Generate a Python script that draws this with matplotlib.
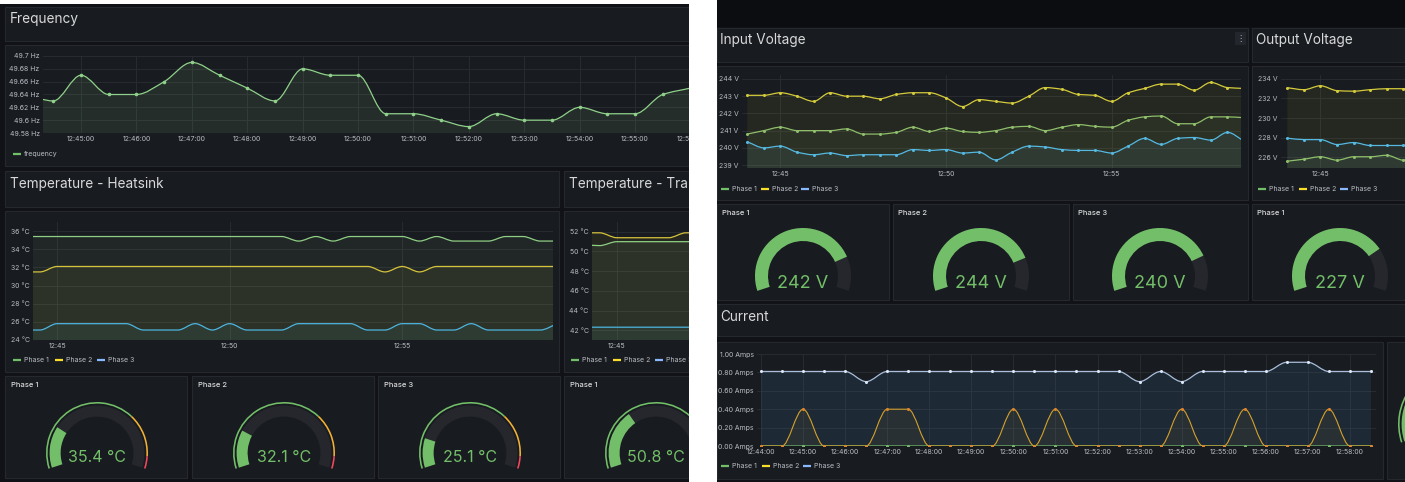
import numpy as np
import matplotlib
matplotlib.use("Agg")
import matplotlib.pyplot as plt
from matplotlib.path import Path
from matplotlib.patches import PathPatch, Rectangle, Wedge

plt.rcParams['font.family'] = ['Inter', 'DejaVu Sans']

W, H = 1405, 482

# ---- data ----
times = ["12:44:00", "12:44:30", "12:45:00", "12:45:30", "12:46:00", "12:46:30",
         "12:47:00", "12:47:30", "12:48:00", "12:48:30", "12:49:00", "12:49:30",
         "12:50:00", "12:50:30", "12:51:00", "12:51:30", "12:52:00", "12:52:30",
         "12:53:00", "12:53:30", "12:54:00", "12:54:30", "12:55:00", "12:55:30",
         "12:56:00", "12:56:30", "12:57:00", "12:57:30", "12:58:00", "12:58:30",
         "12:59:00", "12:59:30"]

frequency = [49.64, 49.63, 49.67, 49.64, 49.64, 49.66, 49.69, 49.67, 49.65, 49.63,
             49.68, 49.67, 49.67, 49.61, 49.61, 49.60, 49.59, 49.61, 49.60, 49.60,
             49.62, 49.61, 49.61, 49.64, 49.65]

heatsink_p1 = [35.4] * 16 + [34.9, 35.4, 34.9, 35.4, 35.4, 35.4, 35.4, 34.9,
                             35.4, 34.9, 34.9, 34.9, 35.4, 35.4, 34.9, 34.9]
heatsink_p2 = [31.5, 31.5] + [32.1] * 19 + [31.5, 32.1, 31.5] + [32.1] * 8
heatsink_p3 = [25.1, 25.1, 25.8, 25.8, 25.8, 25.8, 25.8, 25.1, 25.1, 25.1, 25.8,
               25.1, 25.8, 25.1, 25.1, 25.1, 25.8, 25.8, 25.8, 25.8, 25.1, 25.1,
               25.8, 25.8, 25.1, 25.1, 25.8, 25.1, 25.1, 25.1, 25.1, 25.8]

transformer_p1 = [50.7, 50.6, 51.0, 51.0, 51.0, 51.0, 51.0, 51.0, 51.0]
transformer_p2 = [51.9, 51.9, 51.4, 51.4, 51.4, 51.4, 51.9, 51.9, 51.9]
transformer_p3 = [42.3] * 9

in_volt_p1 = [240.8, 241.0, 241.2, 241.0, 241.0, 241.0, 241.1, 240.8, 240.8, 240.9,
              241.2, 240.95, 241.15, 240.95, 240.9, 241.0, 241.2, 241.25, 241.0, 241.2,
              241.35, 241.25, 241.2, 241.6, 241.8, 241.85, 241.4, 241.4, 241.8, 241.8,
              241.75]
in_volt_p2 = [243.05, 243.05, 243.2, 243.0, 242.7, 243.2, 243.0, 243.0, 242.85, 243.1,
              243.2, 243.2, 242.9, 242.4, 242.8, 242.7, 242.6, 243.0, 243.5, 243.4,
              243.1, 243.05, 242.7, 243.2, 243.45, 243.7, 243.7, 243.35, 243.8, 243.5,
              243.45]
in_volt_p3 = [240.35, 240.0, 240.1, 239.75, 239.6, 239.7, 239.55, 239.6, 239.6, 239.6,
              239.9, 239.85, 239.9, 239.7, 239.75, 239.3, 239.75, 240.1, 240.05, 239.9,
              239.85, 239.85, 239.7, 240.1, 240.55, 240.2, 240.55, 240.6, 240.45, 240.9,
              240.4]

out_volt_p1 = [225.6, 225.8, 226.05, 225.7, 226.05, 226.05, 226.2, 225.7, 225.9]
out_volt_p2 = [233.1, 232.9, 233.3, 232.8, 232.75, 232.9, 233.0, 233.0, 233.0]
out_volt_p3 = [227.95, 227.8, 227.8, 227.3, 227.5, 227.2, 227.2, 227.2, 227.2]

current_p1 = [0.0] * 30
current_p2 = [0.0, 0.0, 0.4, 0.0, 0.0, 0.0, 0.4, 0.4, 0.0, 0.0, 0.0, 0.0, 0.4, 0.0, 0.4,
              0.0, 0.0, 0.0, 0.0, 0.0, 0.4, 0.0, 0.0, 0.4, 0.0, 0.0, 0.0, 0.4, 0.0, 0.0]
current_p3 = [0.81, 0.81, 0.81, 0.81, 0.81, 0.70, 0.81, 0.81, 0.81, 0.81, 0.81, 0.81,
              0.81, 0.81, 0.81, 0.81, 0.81, 0.81, 0.70, 0.81, 0.70, 0.81, 0.81, 0.81,
              0.81, 0.91, 0.91, 0.81, 0.81, 0.81]

heatsink_now = [35.4, 32.1, 25.1]
transformer_now = [50.8]
in_volt_now = [242, 244, 240]
out_volt_now = [227]
current_now = [0.81]

phases = ["Phase 1", "Phase 2", "Phase 3"]
freq_ticks = ["12:45:00", "12:46:00", "12:47:00", "12:48:00", "12:49:00", "12:50:00",
              "12:51:00", "12:52:00", "12:53:00", "12:54:00", "12:55:00", "12:56:00"]
short_ticks = ["12:45", "12:50", "12:55"]
current_ticks = ["12:44:00", "12:45:00", "12:46:00", "12:47:00", "12:48:00", "12:49:00",
                 "12:50:00", "12:51:00", "12:52:00", "12:53:00", "12:54:00", "12:55:00",
                 "12:56:00", "12:57:00", "12:58:00"]

# ---- colours ----
BG = '#111217'
PANEL = '#181b1f'
BORDER = '#25282d'
TXT = '#d8d9da'
TICK = '#b9bcc3'
GRID = '#2a2d33'
GREEN = '#73bf69'
LEG = ['#73bf69', '#fade2a', '#8ab8ff']
TEMP_COLS = ['#8fcf85', '#d6c33b', '#4db4df']
VOLT_COLS = ['#8fbf6a', '#d4cb3c', '#55b9e2']


def tmin(s):
    h, m, sec = (int(v) for v in s.split(':'))
    return (h - 12) * 60 + m + sec / 60


def mono_path(x, y, base=None):
    # monotone cubic (like Grafana "smooth") as bezier segments
    x = np.asarray(x, float)
    y = np.asarray(y, float)
    h = np.diff(x)
    d = np.diff(y) / h
    m = np.zeros_like(y)
    m[0], m[-1] = d[0], d[-1]
    for i in range(1, len(y) - 1):
        if d[i - 1] * d[i] > 0:
            w1 = 2 * h[i] + h[i - 1]
            w2 = h[i] + 2 * h[i - 1]
            m[i] = (w1 + w2) / (w1 / d[i - 1] + w2 / d[i])
    verts = [(x[0], y[0])]
    codes = [Path.MOVETO]
    for i in range(len(h)):
        verts += [(x[i] + h[i] / 3, y[i] + m[i] * h[i] / 3),
                  (x[i + 1] - h[i] / 3, y[i + 1] - m[i + 1] * h[i] / 3),
                  (x[i + 1], y[i + 1])]
        codes += [Path.CURVE4] * 3
    if base is not None:
        verts += [(x[-1], base), (x[0], base), (x[0], y[0])]
        codes += [Path.LINETO, Path.LINETO, Path.CLOSEPOLY]
    return Path(verts, codes)


fig = plt.figure(figsize=(W / 100, H / 100), dpi=100, facecolor='white')
ax0 = fig.add_axes([0, 0, 1, 1], zorder=0)
ax0.set_xlim(0, W)
ax0.set_ylim(H, 0)
ax0.axis('off')
left_clip = Rectangle((0, 0), 689, H, transform=ax0.transData)


def rect(x0, y0, x1, y1, fc, ec='none', lw=0.0):
    ax0.add_patch(Rectangle((x0, y0), x1 - x0, y1 - y0, fc=fc, ec=ec, lw=lw))


def panel(x0, y0, x1, y1):
    rect(x0, y0, x1, y1, PANEL, BORDER, 0.8)


def title(x, y, s, size=9.8):
    t = ax0.text(x, y, s, fontsize=size, color=TXT, va='center', ha='left')
    if x < 689:
        t.set_clip_path(left_clip)
        t.set_clip_on(True)


def legend(x, y, labels, colors, step=42):
    for i, (lab, c) in enumerate(zip(labels, colors)):
        x0 = x + i * step
        ax0.plot([x0, x0 + 8], [y, y], color=c, lw=1.6, solid_capstyle='butt')
        ax0.text(x0 + 11, y, lab, fontsize=5, color=TICK, va='center')


def chart(box, xlim, ylim, yticks, ylabels, xlabels):
    l, t, r, b = box
    ax = fig.add_axes([l / W, 1 - b / H, (r - l) / W, (b - t) / H], zorder=2)
    ax.set_facecolor('none')
    for s in ax.spines.values():
        s.set_visible(False)
    xt = [tmin(s if s.count(':') == 2 else s + ':00') for s in xlabels]
    ax.set_xticks(xt, xlabels)
    ax.set_yticks(yticks, ylabels)
    ax.set_xlim(xlim)
    ax.set_ylim(ylim)
    ax.tick_params(length=0, labelsize=5, colors=TICK, pad=2.5)
    ax.grid(True, color=GRID, lw=0.6)
    ax.set_axisbelow(True)
    return ax


def series(ax, y, color, lw=0.9, alpha=0.07, marker=None, ms=2.2, fill=None):
    x = [tmin(s) for s in times[:len(y)]]
    base = ax.get_ylim()[0]
    ax.add_patch(PathPatch(mono_path(x, y, base), fc=fill or color, ec='none',
                           alpha=alpha, zorder=2))
    ax.add_patch(PathPatch(mono_path(x, y), fill=False, ec=color, lw=lw, zorder=3))
    if marker:
        ax.plot(x, y, 'o', ms=ms, color=marker, mew=0, zorder=4)


START, END = 198.0, -18.0


def arc(cx, cy, r, w, a1, a2, color):
    # overlay y axis is inverted, so visual angles are negated
    ax0.add_patch(Wedge((cx, cy), r, -a2, -a1, width=w, fc=color, ec='none'))


def gauge(cx, cy, value, vmin, vmax, r, w, text=None, ty=0, size=11, bands=None):
    ang = lambda v: START - (v - vmin) / (vmax - vmin) * (START - END)
    rr = r
    if bands:
        for lo, hi, c in bands:
            arc(cx, cy, r, 1.6, ang(hi), ang(lo), c)
        rr = r - 3.6
    arc(cx, cy, rr, w, END, START, '#25272c')
    arc(cx, cy, rr, w, ang(value), START, GREEN)
    if text:
        ax0.text(cx, cy + ty, text, fontsize=size, color=GREEN, ha='center', va='center')


temp_bands = [(0, 105, GREEN), (105, 140, '#f2b134'), (140, 150, '#f2495c')]

# ================= left screenshot =================
rect(0, 4, 716, H, BG)
panel(5, 7, 716, 41)
title(10, 19, 'Frequency')
panel(5, 45, 716, 166)
panel(5, 171, 559, 207)
title(10, 184, 'Temperature - Heatsink')
panel(564, 171, 716, 207)
title(569, 184, 'Temperature - Tra')
panel(5, 211, 559, 372)
panel(564, 211, 716, 372)

ax = chart((43, 56, 716, 133), (44.314, 56.46), (49.58, 49.70),
           [49.58, 49.6, 49.62, 49.64, 49.66, 49.68, 49.7],
           ['49.58 Hz', '49.6 Hz', '49.62 Hz', '49.64 Hz', '49.66 Hz', '49.68 Hz', '49.7 Hz'],
           freq_ticks)
series(ax, frequency, '#8fd18a', alpha=0.1, marker='#8fd18a', ms=2.6)
legend(13, 154, ['frequency'], [GREEN])

ax = chart((33, 222, 553, 340), (44.30, 59.37), (24, 37),
           list(range(24, 37, 2)), ['%d °C' % v for v in range(24, 37, 2)], short_ticks)
for vals, c in zip([heatsink_p1, heatsink_p2, heatsink_p3], TEMP_COLS):
    series(ax, vals, c)
legend(13, 360, phases, LEG)

ax = chart((592, 222, 716, 340), (44.28, 47.87), (41, 53),
           list(range(42, 53, 2)), ['%d °C' % v for v in range(42, 53, 2)], short_ticks)
for vals, c in zip([transformer_p1, transformer_p2, transformer_p3], TEMP_COLS):
    series(ax, vals, c)
legend(571, 360, phases, LEG)

for i, (x0, x1) in enumerate([(5, 187), (192, 374), (378, 560), (564, 716)]):
    panel(x0, 376, x1, 478)
    ax0.text(x0 + 6, 385, phases[i] if i < 3 else phases[0], fontsize=5.5, color=TXT,
             va='center', fontweight='medium')
for cx, v in zip([97, 284, 470, 656], heatsink_now + transformer_now):
    gauge(cx, 453, v, 0, 150, 51, 11, '%.1f °C' % v, ty=4, size=11.5, bands=temp_bands)

# ================= right screenshot =================
rect(717, 0, W, H, BG)
rect(717, 0, W, 27, '#0c0d10')
panel(717, 28, 1248, 62)
title(720, 40, 'Input Voltage')
rect(1235, 32, 1246, 45, '#23262c')
ax0.text(1240.5, 38.5, '⋮', fontsize=6, color=TICK, ha='center', va='center')
panel(1252, 28, 1420, 62)
title(1256, 40, 'Output Voltage')
panel(717, 66, 1248, 200)
panel(1252, 66, 1420, 200)

ax = chart((742, 75, 1241, 168), (43.84, 58.91), (238.83, 244.23),
           list(range(239, 245)), ['%d V' % v for v in range(239, 245)], short_ticks)
for vals, c in zip([in_volt_p1, in_volt_p2, in_volt_p3], VOLT_COLS):
    series(ax, vals, c, marker=c, ms=2.2)
legend(721, 189, phases, LEG, step=40)

ax = chart((1281, 75, 1420, 168), (43.81, 48.0), (224.9, 234.4),
           list(range(226, 235, 2)), ['%d V' % v for v in range(226, 235, 2)], short_ticks)
for vals, c in zip([out_volt_p1, out_volt_p2, out_volt_p3], VOLT_COLS):
    series(ax, vals, c, marker=c, ms=2.2)
legend(1258, 189, phases, LEG, step=41)

for i, (x0, x1) in enumerate([(717, 889), (893, 1069), (1073, 1248), (1252, 1420)]):
    panel(x0, 204, x1, 300)
    ax0.text(x0 + 5, 213, phases[i] if i < 3 else phases[0], fontsize=5.5, color=TXT,
             va='center', fontweight='medium')
for cx, v in zip([803, 981, 1160, 1340], in_volt_now + out_volt_now):
    gauge(cx, 276, v, 0, 300, 48, 13, '%d V' % v, ty=8, size=13)

panel(717, 304, 1420, 336)
title(720, 317, 'Current')
panel(717, 342, 1383, 479)
panel(1387, 342, 1420, 479)
gauge(1458, 424, current_now[0], 0, 1, 60, 12, bands=[(0, 1, GREEN)])

ax = chart((757, 354, 1376, 446), (43.905, 58.62), (0, 1.0),
           [0, 0.2, 0.4, 0.6, 0.8, 1.0], ['%.2f Amps' % v for v in [0, 0.2, 0.4, 0.6, 0.8, 1.0]],
           current_ticks)
series(ax, current_p1, '#73bf69', alpha=0.0, marker='#73bf69', ms=2.2)
series(ax, current_p2, '#d4a12c', lw=0.8, alpha=0.07, marker='#e0842d', ms=2.2)
series(ax, current_p3, '#a9bedb', lw=0.9, alpha=0.14, marker='#dce8f7', ms=2.2,
       fill='#3f7fb5')
legend(721, 466, phases, LEG, step=41)

# white gap between the two screenshots
fig.add_artist(Rectangle((689 / W, 0), (717 - 689) / W, 1, transform=fig.transFigure,
                         fc='white', ec='none', zorder=10))

fig.savefig('out.png', dpi=100, facecolor='white')
